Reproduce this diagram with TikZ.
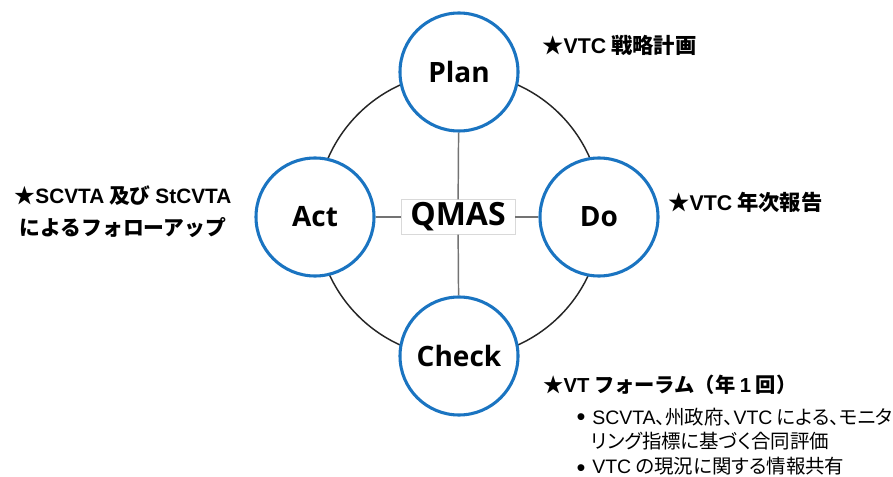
\documentclass[tikz,border=0pt]{standalone}
\usepackage{fontspec}
\setmainfont{Open Sans}
\newfontfamily\jp{Noto Sans CJK JP}
\newfontfamily\jpp[RawFeature=+palt]{Noto Sans CJK JP}
\newfontfamily\la{Liberation Sans}
\definecolor{pdcablue}{HTML}{1A74C1}
\begin{document}
\begin{tikzpicture}[x=0.75pt,y=-0.75pt,
  phase/.style={circle, draw=pdcablue, line width=2.3pt, fill=white, minimum size=88.5pt, inner sep=0pt, font=\fontsize{21}{24}\selectfont\bfseries},
  spoke/.style={draw=black!55, line width=1.1pt},
  ring/.style={draw=black!85, line width=1.1pt},
  note/.style={anchor=west, inner sep=0pt, font=\jp\fontsize{16}{18}\selectfont\bfseries},
  item/.style={anchor=west, inner sep=0pt, text height=11pt, text depth=2pt, font=\jpp\fontsize{14.6}{17}\selectfont},
  dot/.style={anchor=center, inner sep=0pt, text height=10pt, text depth=-3.3pt, font=\la\fontsize{19}{20}\selectfont},
]
\useasboundingbox[fill=white] (0,0) rectangle (893,477);
\coordinate (c) at (459,215);
\draw[ring] (c) circle[radius=107pt];
\node[draw=black!15, fill=white, line width=0.6pt, minimum width=85.5pt, minimum height=26pt, inner sep=0pt, font=\fontsize{24}{28}\selectfont\bfseries] (qmas) at (458,217) {QMAS};
\node[phase] (plan) at (459,72) {Plan};
\node[phase] (do) at (599,217) {Do};
\node[phase] (check) at (459,356) {Check};
\node[phase] (act) at (315,217) {Act};
\draw[spoke] (plan) -- (qmas);
\draw[spoke] (qmas) -- (check);
\draw[spoke] (act) -- (qmas);
\draw[spoke] (qmas) -- (do);
\node[note] (n1) at (542,45) {★{\la VTC} 戦略計画};
\node[note] (n2) at (668,202) {★{\la VTC} 年次報告};
\node[note, anchor=center, align=center, font=\jp\fontsize{15.6}{24}\selectfont\bfseries] (n3) at (123,212) {★{\la SCVTA} 及び {\la StCVTA}\\によるフォローアップ};
\node[note, font=\jp\fontsize{15.2}{18}\selectfont\bfseries] (n4) at (543,385) {★{\la VT} フォーラム（年 {\la 1} 回）};
\node[dot] (b1) at (581,419) {•};
\node[item] (t1) at (592,418) {{\la SCVTA}、州政府、{\la VTC} による、モニタ};
\node[item] (t2) at (591,442) {リング指標に基づく合同評価};
\node[dot] (b2) at (581,470) {•};
\node[item] (t3) at (592,468) {{\la VTC} の現況に関する情報共有};
\end{tikzpicture}
\end{document}
